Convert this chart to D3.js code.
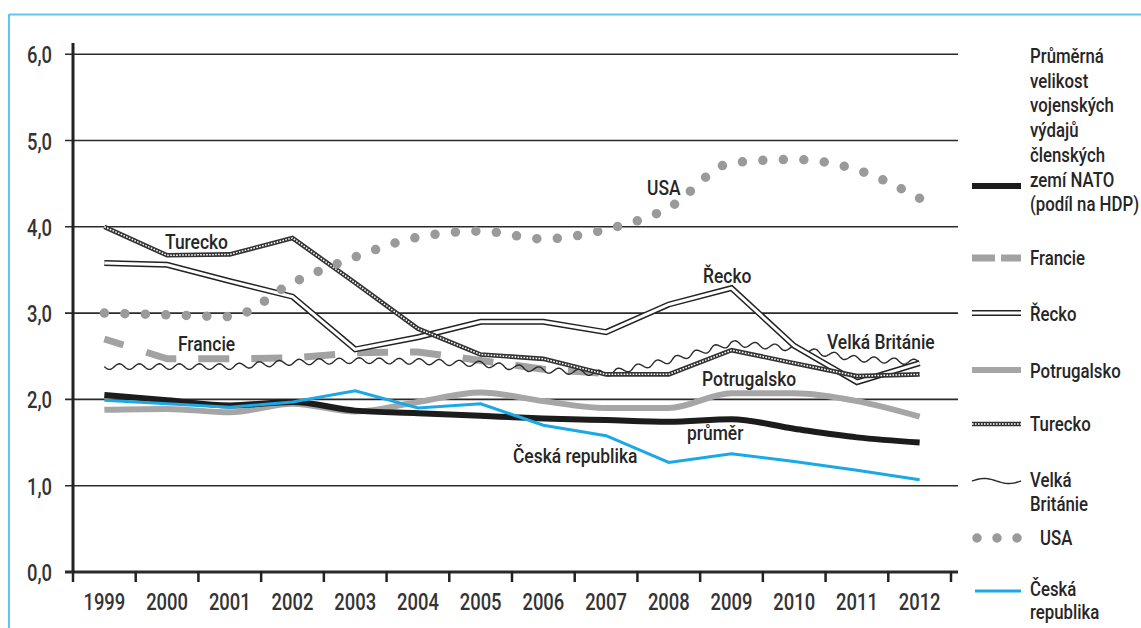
<!DOCTYPE html>
<html>
<head>
<meta charset="utf-8">
<script src="https://cdn.jsdelivr.net/npm/d3@7"></script>
<style>
  body { margin: 0; background: #fff; }
  svg { display: block; font-family: Roboto, "Noto Sans", sans-serif; font-weight: 500; }
</style>
</head>
<body>
<svg width="1141" height="628"></svg>
<script>
// data (podil vojenskych vydaju na HDP, %)
var years = [1999, 2000, 2001, 2002, 2003, 2004, 2005, 2006, 2007, 2008, 2009, 2010, 2011, 2012];
var prumer      = [2.05, 1.99, 1.93, 1.97, 1.87, 1.84, 1.81, 1.78, 1.76, 1.74, 1.77, 1.66, 1.56, 1.50];
var francie     = [2.70, 2.47, 2.47, 2.48, 2.54, 2.55, 2.45, 2.35, 2.30];
var recko       = [3.58, 3.56, 3.37, 3.19, 2.58, 2.72, 2.90, 2.90, 2.78, 3.10, 3.29, 2.62, 2.20, 2.42];
var portugalsko = [1.88, 1.89, 1.85, 1.95, 1.86, 1.97, 2.08, 1.98, 1.90, 1.90, 2.07, 2.07, 1.98, 1.80];
var turecko     = [4.00, 3.67, 3.68, 3.87, 3.35, 2.82, 2.52, 2.47, 2.29, 2.29, 2.57, 2.42, 2.27, 2.29];
var britanie    = [2.38, 2.38, 2.38, 2.43, 2.45, 2.44, 2.41, 2.34, 2.30, 2.45, 2.65, 2.59, 2.47, 2.43];
var usa         = [3.00, 2.98, 2.96, 3.35, 3.65, 3.88, 3.95, 3.86, 3.97, 4.22, 4.74, 4.78, 4.66, 4.33];
var cesko       = [1.99, 1.95, 1.91, 1.97, 2.10, 1.90, 1.95, 1.70, 1.58, 1.27, 1.37, 1.28, 1.18, 1.07];
var yTicks = [0, 1, 2, 3, 4, 5, 6];

var svg = d3.select('svg');

// scales
var x = d3.scaleBand().domain(years).range([73, 951]).padding(0);
var y = d3.scaleLinear().domain([0, 6]).range([572, 54.2]);
function px(i) { return x(years[i]) + x.bandwidth() / 2; }

// condensed-looking text
function txt(g, tx, ty, s, size, anchor, sx) {
    return g.append('text')
        .attr('transform', 'translate(' + tx + ',' + ty + ') scale(' + (sx || 0.83) + ',1)')
        .attr('font-size', size)
        .attr('text-anchor', anchor || 'start')
        .attr('fill', '#262626')
        .text(s);
}

// blue frame
svg.append('line').attr('x1', 9).attr('x2', 1141).attr('y1', 14.5).attr('y2', 14.5)
    .attr('stroke', '#5cc6f4').attr('stroke-width', 2);
svg.append('line').attr('x1', 9).attr('x2', 9).attr('y1', 14).attr('y2', 628)
    .attr('stroke', '#5cc6f4').attr('stroke-width', 2);

// gridlines + y labels
var grid = svg.append('g');
yTicks.forEach(function(t) {
    grid.append('line')
        .attr('x1', 65).attr('x2', 958)
        .attr('y1', y(t)).attr('y2', y(t))
        .attr('stroke', '#2a2a2a')
        .attr('stroke-width', t === 0 ? 3 : 1.6);
    txt(grid, 52, y(t) + 9, d3.format('.1f')(t).replace('.', ','), 23, 'end', 0.8)
        .attr('fill', '#333');
});

// y axis line
svg.append('line').attr('x1', 73).attr('x2', 73).attr('y1', 43).attr('y2', 573)
    .attr('stroke', '#222').attr('stroke-width', 3);

// x ticks at band edges + year labels
var xt = svg.append('g');
years.concat([2013]).forEach(function(yr, i) {
    var xx = i < years.length ? x(yr) : x.range()[1];
    xt.append('line').attr('x1', xx).attr('x2', xx).attr('y1', 571).attr('y2', 582)
        .attr('stroke', '#222').attr('stroke-width', 2.5);
});
years.forEach(function(yr, i) {
    txt(xt, px(i), 610, yr, 23, 'middle', 0.8).attr('fill', '#333');
});

function lineOf(vals, curve) {
    return d3.line()
        .x(function(d, i) { return px(i); })
        .y(function(d) { return y(d); })
        .curve(curve || d3.curveLinear)(vals);
}

// wavy version of a polyline
function wavy(d, period, amp) {
    var tmp = svg.append('path').attr('d', d).attr('fill', 'none');
    var node = tmp.node(), total = node.getTotalLength(), pts = [];
    for (var s = 0; s <= total; s += 1) {
        var p = node.getPointAtLength(s);
        var a = node.getPointAtLength(Math.max(0, s - 0.5));
        var b = node.getPointAtLength(Math.min(total, s + 0.5));
        var dx = b.x - a.x, dy = b.y - a.y, len = Math.sqrt(dx * dx + dy * dy) || 1;
        var off = amp * Math.sin(2 * Math.PI * s / period);
        pts.push([p.x - dy / len * off, p.y + dx / len * off]);
    }
    tmp.remove();
    return d3.line()(pts);
}

var lines = svg.append('g').attr('fill', 'none');

// Francie - thick gray dashes
lines.append('path').attr('d', lineOf(francie))
    .attr('stroke', '#a2a2a2').attr('stroke-width', 7).attr('stroke-dasharray', '20 24 31 22 31 22 31 22 31 22 31 22 31 22 31 22 31 22 31 22 31 22');

// Portugalsko - thick gray
lines.append('path').attr('d', lineOf(portugalsko, d3.curveMonotoneX))
    .attr('stroke', '#a6a6a6').attr('stroke-width', 6);

// Velka Britanie - wavy thin
lines.append('path').attr('d', wavy(lineOf(britanie), 20, 2.8))
    .attr('stroke', '#2a2a2a').attr('stroke-width', 1.4);

// Recko - double line
lines.append('path').attr('d', lineOf(recko))
    .attr('stroke', '#222').attr('stroke-width', 6).attr('stroke-linejoin', 'miter');
lines.append('path').attr('d', lineOf(recko))
    .attr('stroke', '#fff').attr('stroke-width', 3).attr('stroke-linejoin', 'miter');

// Turecko - chain
lines.append('path').attr('d', lineOf(turecko))
    .attr('stroke', '#333').attr('stroke-width', 4.6);
lines.append('path').attr('d', lineOf(turecko))
    .attr('stroke', '#fff').attr('stroke-width', 1.5).attr('stroke-dasharray', '1.6 1.4');

// USA - round gray dots
lines.append('path').attr('d', lineOf(usa, d3.curveMonotoneX))
    .attr('stroke', '#9a9a9a').attr('stroke-width', 9.5)
    .attr('stroke-linecap', 'round').attr('stroke-dasharray', '0 20.5');

// prumer - thick black
lines.append('path').attr('d', lineOf(prumer, d3.curveMonotoneX))
    .attr('stroke', '#1c1c1c').attr('stroke-width', 6);

// Ceska republika - blue
lines.append('path').attr('d', lineOf(cesko))
    .attr('stroke', '#1ba8e6').attr('stroke-width', 3);

// labels in the plot
var lab = svg.append('g');
txt(lab, 165, 249, 'Turecko', 21);
txt(lab, 647, 195, 'USA', 21);
txt(lab, 703, 283, 'Řecko', 21);
txt(lab, 178, 351, 'Francie', 21);
txt(lab, 827, 349, 'Velká Británie', 21);
txt(lab, 702, 386, 'Potrugalsko', 21);
txt(lab, 687, 440, 'průměr', 21);
txt(lab, 513, 463, 'Česká republika', 21);

// legend
var leg = svg.append('g');
var prumerLabel = ['Průměrná', 'velikost', 'vojenských', 'výdajů', 'členských', 'zemí NATO', '(podíl na HDP)'];
prumerLabel.forEach(function(s, i) { txt(leg, 1030, 63 + i * 24.7, s, 20, 'start', 0.84); });
leg.append('line').attr('x1', 972).attr('x2', 1021).attr('y1', 186).attr('y2', 186)
    .attr('stroke', '#1c1c1c').attr('stroke-width', 6);

leg.append('path').attr('d', 'M972,258H1021').attr('stroke', '#a2a2a2')
    .attr('stroke-width', 7).attr('stroke-dasharray', '23 6 20');
txt(leg, 1030, 265, 'Francie', 20, 'start', 0.84);

leg.append('path').attr('d', 'M972,313H1021').attr('stroke', '#222').attr('stroke-width', 6);
leg.append('path').attr('d', 'M972,313H1021').attr('stroke', '#fff').attr('stroke-width', 3);
txt(leg, 1030, 321, 'Řecko', 20, 'start', 0.84);

leg.append('path').attr('d', 'M972,370H1021').attr('stroke', '#a6a6a6').attr('stroke-width', 6);
txt(leg, 1030, 378, 'Potrugalsko', 20, 'start', 0.84);

leg.append('path').attr('d', 'M972,424H1021').attr('stroke', '#333').attr('stroke-width', 4.6);
leg.append('path').attr('d', 'M972,424H1021').attr('stroke', '#fff').attr('stroke-width', 1.5)
    .attr('stroke-dasharray', '1.6 1.4');
txt(leg, 1030, 431, 'Turecko', 20, 'start', 0.84);

leg.append('path').attr('d', wavy('M972,481H1021', 49, -2.5)).attr('fill', 'none')
    .attr('stroke', '#2a2a2a').attr('stroke-width', 1.4);
txt(leg, 1030, 487, 'Velká', 20, 'start', 0.84);
txt(leg, 1030, 511, 'Británie', 20, 'start', 0.84);

leg.append('path').attr('d', 'M977,538H1021').attr('stroke', '#9a9a9a').attr('stroke-width', 9.5)
    .attr('stroke-linecap', 'round').attr('stroke-dasharray', '0 20');
txt(leg, 1040, 545, 'USA', 20, 'start', 0.84);

leg.append('path').attr('d', 'M975,591H1021').attr('stroke', '#1ba8e6').attr('stroke-width', 3);
txt(leg, 1030, 596, 'Česká', 20, 'start', 0.84);
txt(leg, 1030, 619, 'republika', 20, 'start', 0.84);
</script>
</body>
</html>
